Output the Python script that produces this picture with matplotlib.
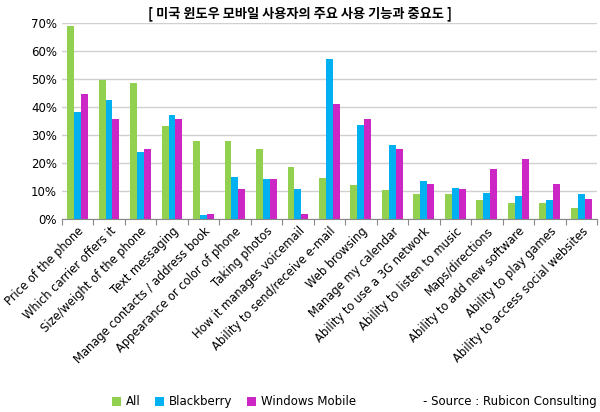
import numpy as np
import matplotlib as mpl
import matplotlib.pyplot as plt

mpl.rcParams['font.family'] = 'DejaVu Sans'

categories = ['Price of the phone', 'Which carrier offers it', 'Size/weight of the phone',
              'Text messaging', 'Manage contacts / address book', 'Appearance or color of phone',
              'Taking photos', 'How it manages voicemail', 'Ability to send/receive e-mail',
              'Web browsing', 'Manage my calendar', 'Ability to use a 3G network',
              'Ability to listen to music', 'Maps/directions', 'Ability to add new software',
              'Ability to play games', 'Ability to access social websites']
all_users = [68.8, 49.8, 48.7, 33.3, 28.0, 28.0, 25.1, 18.7, 14.8, 12.3, 10.5, 9.0, 9.0, 6.9, 5.8, 5.8, 4.0]
blackberry = [38.3, 42.6, 24.0, 37.3, 1.5, 15.1, 14.4, 10.8, 57.3, 33.7, 26.5, 13.7, 11.2, 9.4, 8.3, 6.9, 9.0]
windows_mobile = [44.8, 35.8, 25.1, 35.8, 1.9, 10.8, 14.4, 1.9, 41.2, 35.8, 25.1, 12.6, 10.8, 18.0, 21.5, 12.6, 7.3]

fig = plt.figure(figsize=(6.0, 4.12), dpi=100)
ax = fig.add_axes([0.103, 0.468, 0.892, 0.476])
x = np.arange(len(categories))
w = 0.22
ax.bar(x - w, all_users, w, color='#92D050', label='All')
ax.bar(x, blackberry, w, color='#00B0F0', label='Blackberry')
ax.bar(x + w, windows_mobile, w, color='#CC27C4', label='Windows Mobile')

ax.set_ylim(0, 70)
ax.set_yticks(range(0, 71, 10))
ax.set_yticklabels([f'{v}%' for v in range(0, 71, 10)], fontsize=8.5)
ax.set_xlim(-0.5, len(categories) - 0.5)
ax.set_xticks(np.arange(-0.5, len(categories)), minor=False)
ax.set_xticklabels([])
ax.set_xticks(x, minor=True)
ax.set_xticklabels(categories, minor=True, rotation=45, ha='right', rotation_mode='anchor', fontsize=8.3)
ax.tick_params(axis='x', which='minor', length=0, pad=4)
ax.tick_params(axis='x', which='major', length=4, color='#888888')
ax.tick_params(axis='y', length=0)
ax.grid(axis='y', color='#D0D0D0', linewidth=1)
ax.set_axisbelow(True)
for s in ['top', 'right', 'left']:
    ax.spines[s].set_visible(False)
ax.spines['bottom'].set_color('#888888')

fig.text(0.5, 0.968, '[ 미국 윈도우 모바일 사용자의 주요 사용 기능과 중요도 ]', ha='center', va='center',
         fontsize=9.5, fontweight='bold', family='Noto Sans CJK JP')
fig.legend(loc='center', bbox_to_anchor=(0.39, 0.025), ncol=3, frameon=False, fontsize=8.5,
           handlelength=0.8, handleheight=0.8, columnspacing=1.2, handletextpad=0.4)
fig.text(0.995, 0.025, '- Source : Rubicon Consulting', ha='right', va='center', fontsize=8.5)

fig.savefig('out.png', dpi=100)
